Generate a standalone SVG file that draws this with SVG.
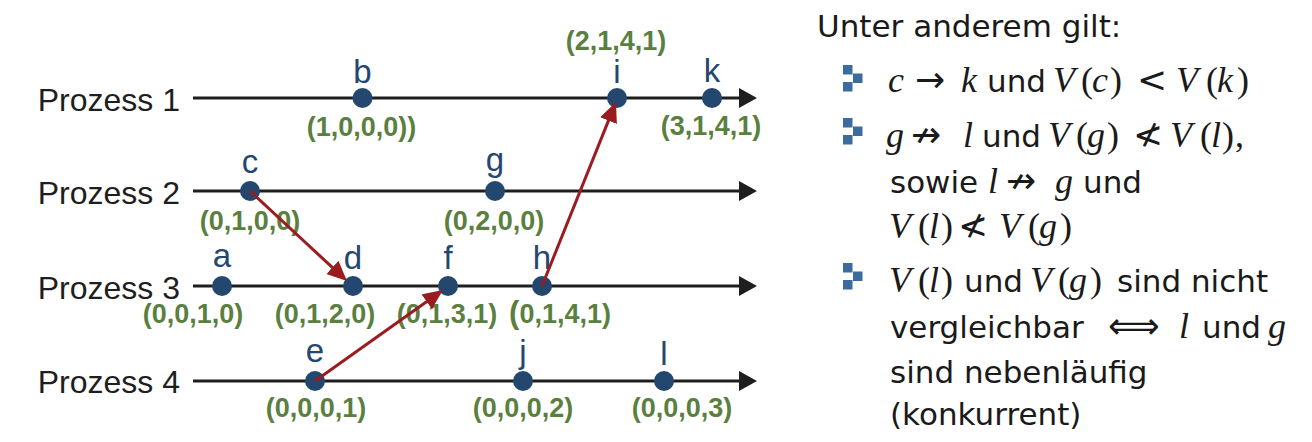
<svg xmlns="http://www.w3.org/2000/svg" width="1312" height="442" viewBox="0 0 1312 442">
<style>
.pl{font-family:"Liberation Sans",Arial,sans-serif;font-size:32px;fill:#1e1e1e;text-anchor:end}
.axis{stroke:#1e1e1e;stroke-width:3;fill:none}
.ev{fill:#23476e}
.nl{font-family:"Liberation Sans",Arial,sans-serif;font-size:33px;fill:#23476e;text-anchor:middle}
.vc{font-family:"Liberation Sans",Arial,sans-serif;font-weight:bold;font-size:27px;fill:#5b7f3f;text-anchor:middle}
.msg{stroke:#9b1c20;stroke-width:3;fill:none}
.t{font-family:"DejaVu Sans",sans-serif;font-size:31px;fill:#1a1a1a}
.mi{font-family:"Liberation Serif","DejaVu Serif",serif;font-style:italic;font-size:36px}
.mo{font-family:"Liberation Serif","DejaVu Serif",serif;font-size:36px}
.ms{font-family:"DejaVu Sans",sans-serif;font-size:36px}
.bl{fill:#3b6b9f}
</style>
<defs>
<marker id="ah" markerWidth="20" markerHeight="20" refX="8" refY="10" orient="auto" markerUnits="userSpaceOnUse"><path d="M0,0 L18,10 L0,20 z" fill="#1e1e1e"/></marker>
<marker id="ar" markerWidth="20" markerHeight="18" refX="8" refY="9" orient="auto" markerUnits="userSpaceOnUse"><path d="M0,0 L20,9 L0,18 z" fill="#9b1c20"/></marker>
<g id="bul"><rect x="0" y="0" width="9.5" height="9.5"/><rect x="10" y="8.5" width="9.5" height="9.5"/><rect x="0" y="17" width="9.5" height="9.5"/></g>
</defs>

<g id="processes">
<text class="pl" x="180" y="111">Prozess 1</text>
<text class="pl" x="180" y="204">Prozess 2</text>
<text class="pl" x="180" y="299">Prozess 3</text>
<text class="pl" x="180" y="393">Prozess 4</text>
<line class="axis" x1="193" y1="98" x2="747" y2="98" marker-end="url(#ah)"/>
<line class="axis" x1="193" y1="191" x2="747" y2="191" marker-end="url(#ah)"/>
<line class="axis" x1="193" y1="286" x2="747" y2="286" marker-end="url(#ah)"/>
<line class="axis" x1="193" y1="381" x2="747" y2="381" marker-end="url(#ah)"/>
</g>

<g id="node-b"><circle class="ev" cx="362.5" cy="98" r="10"/><text class="nl" x="362.5" y="83">b</text><text class="vc" x="361.5" y="136">(1,0,0,0))</text></g>
<g id="node-i"><circle class="ev" cx="617" cy="98" r="10"/><text class="nl" x="617" y="83">i</text><text class="vc" x="616" y="50">(2,1,4,1)</text></g>
<g id="node-k"><circle class="ev" cx="712" cy="98" r="10"/><text class="nl" x="712" y="82">k</text><text class="vc" x="711" y="135">(3,1,4,1)</text></g>
<g id="node-c"><circle class="ev" cx="250" cy="191" r="10"/><text class="nl" x="250" y="173">c</text><text class="vc" x="250" y="230">(0,1,0,0)</text></g>
<g id="node-g"><circle class="ev" cx="495" cy="191" r="10"/><text class="nl" x="495" y="171">g</text><text class="vc" x="494" y="230">(0,2,0,0)</text></g>
<g id="node-a"><circle class="ev" cx="222" cy="286" r="10"/><text class="nl" x="222" y="267">a</text><text class="vc" x="193" y="323">(0,0,1,0)</text></g>
<g id="node-d"><circle class="ev" cx="353" cy="286" r="10"/><text class="nl" x="353" y="269">d</text><text class="vc" x="325" y="323">(0,1,2,0)</text></g>
<g id="node-f"><circle class="ev" cx="448" cy="286" r="10"/><text class="nl" x="448" y="269">f</text><text class="vc" x="447" y="323">(0,1,3,1)</text></g>
<g id="node-h"><circle class="ev" cx="542" cy="286" r="10"/><text class="nl" x="542" y="269">h</text><text class="vc" x="560" y="323"><tspan font-size="31">(</tspan>0,1,4,1)</text></g>
<g id="node-e"><circle class="ev" cx="315" cy="381" r="10"/><text class="nl" x="315" y="362">e</text><text class="vc" x="316" y="417">(0,0,0,1)</text></g>
<g id="node-j"><circle class="ev" cx="523" cy="381" r="10"/><text class="nl" x="523" y="363">j</text><text class="vc" x="523" y="417">(0,0,0,2)</text></g>
<g id="node-l"><circle class="ev" cx="664" cy="381" r="10"/><text class="nl" x="664" y="365">l</text><text class="vc" x="682" y="417">(0,0,0,3)</text></g>

<g id="connectors">
<line class="msg" x1="250" y1="191" x2="338.2" y2="272.9" marker-end="url(#ar)"/>
<line class="msg" x1="315" y1="381" x2="433.2" y2="297" marker-end="url(#ar)"/>
<line class="msg" x1="542" y1="286" x2="611.5" y2="113.1" marker-end="url(#ar)"/>
</g>

<g id="notes">
<text class="t" x="817" y="37">Unter anderem gilt:</text>
<use href="#bul" class="bl" x="843" y="65"/>
<use href="#bul" class="bl" x="843" y="118"/>
<use href="#bul" class="bl" x="843" y="263"/>
<text class="t" y="92"><tspan class="mi" x="888">c</tspan><tspan class="ms" x="915">→</tspan><tspan class="mi" x="961">k</tspan><tspan x="987">und</tspan><tspan class="mi" x="1053">V</tspan><tspan class="mo" x="1081">(</tspan><tspan class="mi" x="1092">c</tspan><tspan class="mo" x="1110">)</tspan><tspan class="ms" x="1137">&lt;</tspan><tspan class="mi" x="1176">V</tspan><tspan class="mo" x="1206">(</tspan><tspan class="mi" x="1217">k</tspan><tspan class="mo" x="1237">)</tspan></text>
<text class="t" y="147"><tspan class="mi" x="886">g</tspan><tspan class="ms" x="911">↛</tspan><tspan class="mi" x="963">l</tspan><tspan x="982">und</tspan><tspan class="mi" x="1048">V</tspan><tspan class="mo" x="1076">(</tspan><tspan class="mi" x="1087">g</tspan><tspan class="mo" x="1107">)</tspan><tspan class="ms" x="1133">≮</tspan><tspan class="mi" x="1170">V</tspan><tspan class="mo" x="1200">(</tspan><tspan class="mi" x="1211">l</tspan><tspan class="mo" x="1222">)</tspan><tspan class="mo" x="1235">,</tspan></text>
<text class="t" y="193"><tspan x="890">sowie</tspan><tspan class="mi" x="988">l</tspan><tspan class="ms" x="1006">↛</tspan><tspan class="mi" x="1055">g</tspan><tspan x="1083">und</tspan></text>
<text class="t" y="238"><tspan class="mi" x="889">V</tspan><tspan class="mo" x="918">(</tspan><tspan class="mi" x="929">l</tspan><tspan class="mo" x="941">)</tspan><tspan class="ms" x="958">≮</tspan><tspan class="mi" x="999">V</tspan><tspan class="mo" x="1028">(</tspan><tspan class="mi" x="1039">g</tspan><tspan class="mo" x="1060">)</tspan></text>
<text class="t" y="292"><tspan class="mi" x="889">V</tspan><tspan class="mo" x="918">(</tspan><tspan class="mi" x="929">l</tspan><tspan class="mo" x="941">)</tspan><tspan x="964">und</tspan><tspan class="mi" x="1030">V</tspan><tspan class="mo" x="1058">(</tspan><tspan class="mi" x="1069">g</tspan><tspan class="mo" x="1090">)</tspan><tspan x="1117">sind nicht</tspan></text>
<text class="t" y="338"><tspan x="890">vergleichbar</tspan><tspan class="ms" x="1108" font-size="42">⟺</tspan><tspan class="mi" x="1179">l</tspan><tspan x="1202">und</tspan><tspan class="mi" x="1268">g</tspan></text>
<text class="t" x="890" y="383">sind nebenläufig</text>
<text class="t" x="890" y="425">(konkurrent)</text>
</g>
</svg>
